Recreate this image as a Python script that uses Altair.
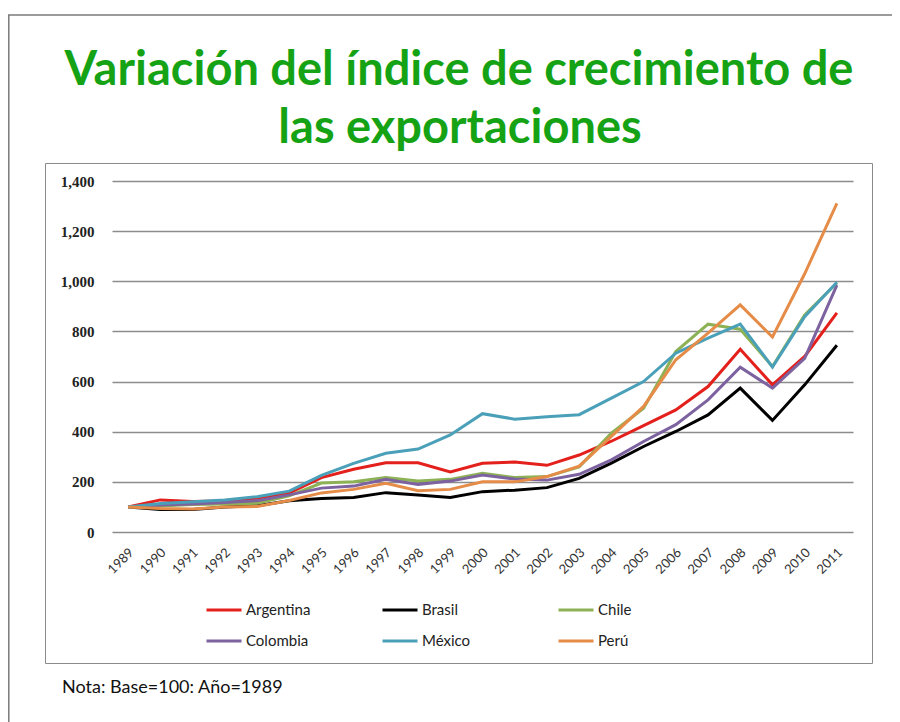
import altair as alt
import pandas as pd

years = list(range(1989, 2012))
countries = ["Argentina", "Brasil", "Chile", "Colombia", "México", "Perú"]
colors = ["#e3201b", "#000000", "#8db255", "#7d62a0", "#4aa0b8", "#e58c48"]

argentina = [100, 128, 122, 124, 135, 155, 217, 250, 276, 276, 240, 274, 279, 266, 307, 362, 424, 487, 580, 729, 587, 700, 874]
brasil = [100, 90, 90, 100, 105, 125, 134, 138, 157, 148, 138, 161, 167, 177, 214, 275, 341, 401, 467, 574, 445, 587, 745]
chile = [100, 104, 110, 112, 115, 144, 195, 200, 217, 203, 210, 234, 217, 221, 260, 394, 494, 720, 829, 809, 660, 866, 993]
colombia = [100, 108, 112, 118, 125, 148, 175, 183, 210, 190, 203, 227, 211, 207, 230, 288, 361, 428, 527, 657, 574, 693, 985]
mexico = [100, 114, 121, 128, 141, 163, 226, 274, 314, 331, 387, 472, 450, 460, 468, 534, 600, 713, 773, 829, 658, 859, 996]
peru = [100, 94, 92, 100, 102, 126, 156, 170, 194, 165, 170, 200, 200, 221, 263, 381, 501, 687, 793, 906, 778, 1030, 1311]

series = [argentina, brasil, chile, colombia, mexico, peru]
title_lines = ["Variación del índice de crecimiento de", "las exportaciones"]
note = "Nota: Base=100: Año=1989"

rows = []
for c, vals in zip(countries, series):
    for y, v in zip(years, vals):
        rows.append({"País": c, "Año": str(y), "Índice": v, "orden": countries.index(c)})
df = pd.DataFrame(rows)

dummy = pd.DataFrame({"k": [0]})

# plot area: page x 112..853, y 181..532
W, H = 741, 351
PL, PT = 104, 173
TOTW, TOTH = 884, 714
PR = TOTW - PL - W
PB = TOTH - PT - H

frames = alt.Chart(dummy).mark_rect(fill=None, stroke="#8a8a8a", strokeWidth=1).encode(
    x=alt.value(45 - 112 + 0.5), x2=alt.value(872 - 112 + 0.5),
    y=alt.value(163 - 181 + 0.5), y2=alt.value(663 - 181 + 0.5),
)
outer_top = alt.Chart(dummy).mark_rule(stroke="#7a7a7a", strokeWidth=1.5).encode(
    x=alt.value(-PL), x2=alt.value(W + PR), y=alt.value(15 - 181),
)
outer_left = alt.Chart(dummy).mark_rule(stroke="#7a7a7a", strokeWidth=1.5).encode(
    x=alt.value(-PL + 0.8), y=alt.value(15 - 181), y2=alt.value(H + PB),
)

t1 = alt.Chart(dummy).mark_text(
    text=title_lines[0], align="center", baseline="alphabetic",
    font="Lato", fontSize=47, fontWeight="bold", color="#15a315",
).encode(x=alt.value(459 - 112), y=alt.value(85 - 181))
t2 = alt.Chart(dummy).mark_text(
    text=title_lines[1], align="center", baseline="alphabetic",
    font="Lato", fontSize=47, fontWeight="bold", color="#15a315",
).encode(x=alt.value(460 - 112), y=alt.value(143 - 181))
nt = alt.Chart(dummy).mark_text(
    text=note, align="left", baseline="middle",
    font="Lato", fontSize=18, color="#111111",
).encode(x=alt.value(62 - 112), y=alt.value(688 - 181))

lines = alt.Chart(df).mark_line(strokeWidth=3).encode(
    x=alt.X("Año:O", title=None, sort=[str(y) for y in years],
            axis=alt.Axis(labelAngle=-45, labelAlign="right", labelBaseline="middle",
                          labelPadding=18, labelOffset=3, ticks=False, domain=False,
                          labelFont="Lato", labelFontSize=13, labelColor="#333333",
                          grid=False)),
    y=alt.Y("Índice:Q", title=None,
            scale=alt.Scale(domain=[0, 1400], nice=False),
            axis=alt.Axis(values=[0, 200, 400, 600, 800, 1000, 1200, 1400], format=",.0f",
                          ticks=False, domain=False, labelPadding=18,
                          labelFont="Liberation Serif", labelFontWeight="bold",
                          labelFontSize=15, labelColor="#222222",
                          gridColor="#8c8c8c", gridWidth=1.3)),
    color=alt.Color("País:N", scale=alt.Scale(domain=countries, range=colors),
                    legend=alt.Legend(title=None, orient="none", legendX=93, legendY=410,
                                      direction="horizontal", columns=3, gridAlign="all",
                                      columnPadding=65, rowPadding=4, padding=0,
                                      symbolType="stroke", symbolSize=1225,
                                      symbolStrokeWidth=3, labelOffset=3,
                                      labelFont="Lato", labelFontSize=15,
                                      labelColor="#222222")),
    order=alt.Order("orden:Q"),
)

chart = alt.layer(outer_top, outer_left, frames, t1, t2, nt, lines).properties(
    width=W, height=H,
    padding={"left": PL, "top": PT, "right": PR, "bottom": PB},
    autosize=alt.AutoSizeParams(type="none"),
    background="white",
).configure_view(stroke=None)

chart.save("out.html", embed_options={"renderer": "svg", "actions": False})
